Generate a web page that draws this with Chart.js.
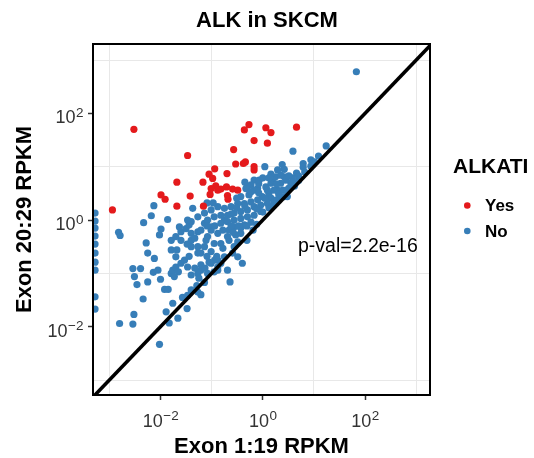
<!DOCTYPE html>
<html>
<head>
<meta charset="utf-8">
<script src="https://cdn.jsdelivr.net/npm/chart.js@4.4.0/dist/chart.umd.min.js"></script>
<style>
  html, body { margin: 0; padding: 0; background: #fff; }
</style>
</head>
<body>
<canvas id="alkChart" width="534" height="458"></canvas>
<script>
// values are log10(RPKM)
const tickExps = [-3, -2, -1, 0, 1, 2, 3];
const labelExps = [-2, 0, 2];
const diagLine = [-4, 4];

const yesExon119 = [-2.52, -2.94, -1.47, -1.68, -1.99, -1.91, -1.68, -1.42, -1.16, -1.17, -1.05, -0.94, -0.98,
  -0.70, -1.03, -0.92, -0.82, -0.71, -0.69, -0.68, -0.59, -0.49, -0.57, -0.53, -0.38, -0.34, -0.36, -0.27,
  -0.17, -0.17, -0.17, 0.06, 0.16, 0.09, 0.66, -1.01, -0.88];
const yesExon2029 = [1.70, 0.19, 1.21, 0.71, 0.47, 0.39, 0.26, 0.45, 0.26, 0.71, 0.86, 0.96, 0.78,
  0.87, 0.48, 0.64, 0.58, 0.62, 0.46, 0.39, 0.58, 0.56, 1.32, 1.05, 1.06, 1.09, 1.69, 1.79,
  1.49, 1.00, 0.94, 1.73, 1.64, 1.44, 1.74, 0.59, 0.56];

const noExon119 = [
  -3.28, -3.28, -3.28, -3.28, -3.28, -3.28, -3.28, -3.28, -3.28, -3.28,
  -2.82, -2.79, -2.18, -2.33, -1.86, -1.99, -2.02, -2.28, -2.25, -2.12, -2.54, -2.39, -2.51, -2.46, -2.25,
  -2.14, -2.05, -2.00, -1.92, -1.85, -2.34, -2.80, -2.54, -2.52, -2.02, -1.83, -1.66, -1.89, -1.76, -1.57,
  -1.48, -1.47, -1.40, -1.29, -1.21, -1.14, -1.79, -1.76, -1.70, -1.65, -1.73, -1.60, -1.79, -1.68, -1.70,
  -1.53, -1.47, -1.79, -1.60, -1.60, -1.70, -1.63, -1.50, -1.44, -1.40, -1.40, -1.27, -1.40, -1.27, -1.27,
  -1.21, -1.14, -1.11, -1.09, -1.01, -0.94, -1.01, -0.88, -0.95, -1.21, -1.27, -1.40, -1.21, -1.08, -0.88,
  -0.82, -0.88, -0.69, -0.64, -0.75, -0.59, -0.49, -0.56, -0.49, -0.40, -0.43, -0.53, -0.95, -1.08, -0.82,
  -0.69, -0.66, -0.75, -0.88, -1.01, -1.14, -1.40, -1.27, -0.31,
  -2.13, -1.37, -1.09, -1.47, -1.27, 0.04, 0.59, 0.38, 0.42, 0.79, 0.79, 1.09, 1.24, 0.55, 0.70,
  0.42, -0.17, -0.30, -0.43, 0.06, 0.12, 0.29, 0.35, -0.10, -0.01, 0.48, 0.19, 0.25, 0.35, 1.83,
  0.45, 0.35, 0.16, -0.07, -0.23, -0.33, -0.17, 0.09, 0.22, 0.42, 0.16, -0.10, -0.23, -0.36, -0.49,
  -0.62, -0.75, -0.88, -1.01, -1.14, -1.08, -0.95, -0.82, -0.69, -0.56, -0.43, -0.30, -0.17, -0.04, 0.09,
  0.22, -0.82, -0.69, -0.56, -0.43, -0.30, -0.17, -0.04, -1.01, -0.56, -0.36, -0.23, -0.43,
  -0.12, 0.00, 0.12, 0.27, 0.39, 0.51, 0.58, 0.66, 0.94, -0.97, -0.51, -0.27, -0.08, -0.35, 0.00, 0.16, 0.29,
  0.51, 0.62, 0.27, 0.12, -0.08, -0.23, -0.58, -0.47, -0.31, -0.19, -0.66, -0.78, -0.90, -1.05, -1.13,
  -1.25, -1.33, -1.44, -1.48, -1.33, -1.21, -1.09, -0.94, -0.78, -0.62, -0.62, -0.51, -0.35, -0.12, 0.04,
  0.19, 0.31, 0.47, 0.58, 0.70, 0.82, 0.94, 1.01
];
const noExon2029 = [
  0.13, -0.02, -0.15, -0.30, -0.45, -0.62, -0.79, -0.94, -1.44, -1.67,
  -0.23, -0.29, 0.08, -0.05, 0.01, -0.17, -0.28, -0.43, -0.62, -0.72, -0.91, -0.91, -1.06, -1.21, -1.16,
  -0.98, -0.94, -1.11, -1.30, -1.30, -1.48, -1.94, -1.95, -1.77, -2.33, -1.93, -1.84, -1.72, -1.56, -1.45,
  -1.66, -1.41, -1.31, -1.23, -1.40, -1.17, -1.00, -0.94, -0.88, -0.97, -1.06, -0.81, -0.56, -0.56, -0.69,
  -0.75, -0.88, -0.38, -0.22, -0.38, -0.31, -0.13, -0.16, -0.09, -0.25, -0.38, -0.22, -0.50, -0.62, -0.50,
  -0.62, -0.50, -0.38, -0.68, -0.59, -0.75, -0.81, -0.94, -0.97, -0.94, -1.00, -1.03, -0.84, -1.00, -0.88,
  -0.81, -0.75, -0.94, -1.16, -0.69, -0.62, -0.69, -0.50, -0.41, -0.81, -0.25, -0.28, -0.44, -0.31, -0.44,
  -0.31, -0.19, 0.00, -0.25, -0.19, -0.06, -0.03, -1.35, -0.38,
  0.27, 0.22, 0.32, 0.00, 0.06, 1.00, 1.29, 1.04, 0.95, 1.06, 0.99, 1.20, 1.39, 0.69, 0.74,
  0.81, 0.75, 0.62, 0.44, 0.62, 0.50, 0.56, 0.44, 0.59, 0.44, 0.44, 0.72, 0.81, 0.69, 2.78,
  0.75, 0.84, 0.69, 0.75, 0.66, 0.59, 0.56, 0.56, 0.56, 0.44, 0.41, 0.38, 0.34, 0.31, 0.31,
  0.25, 0.22, 0.25, 0.19, 0.13, 0.00, 0.06, 0.09, 0.09, 0.13, 0.16, 0.19, 0.25, 0.28, 0.31,
  0.34, -0.06, -0.03, 0.00, 0.03, 0.06, 0.09, 0.16, -0.13, -0.13, -0.09, -0.04, -0.15,
  -0.08, 0.15, 0.23, 0.38, 0.56, 0.60, 0.79, 0.88, 1.13, 0.32, 0.41, 0.47, 0.51, 0.71, 0.79, 0.86, 0.94,
  0.83, 0.64, 0.68, 0.79, 0.68, 0.53, -0.23, -0.11, -0.11, -0.19, -0.38, -0.53, -0.68, -0.79, -0.90,
  -1.09, -0.90, -0.68, -0.45, -0.34, -0.19, -0.11, -0.11, -0.19, -0.11, 0.11, 0.23, 0.26, 0.21, 0.41,
  0.26, 0.49, 0.56, 0.71, 0.83, 0.90, 1.01, 1.09
];

const fontFam = '"Liberation Sans", Arial, Helvetica, sans-serif';

function toPoints(xs, ys) {
  return xs.map((x, i) => ({ x: x, y: ys[i] }));
}

function logAxis(min, max, titleText, isY) {
  return {
    type: 'linear',
    min: min,
    max: max,
    afterBuildTicks: scale => {
      scale.ticks = tickExps.map(v => ({ value: v }));
    },
    afterFit: scale => {
      if (isY) scale.width = 93;
      else scale.height = 63;
    },
    border: { display: false },
    grid: {
      color: c => (c.tick && Math.abs(c.tick.value) % 2 === 1) ? '#E8E8E8' : 'rgba(0,0,0,0)',
      lineWidth: 1,
      tickLength: 5,
      tickWidth: 1.5,
      tickColor: c => (c.tick && c.tick.value % 2 === 0) ? '#333333' : 'rgba(0,0,0,0)'
    },
    // labels 10^n are drawn by the powLabels plugin (real superscripts)
    ticks: { display: false },
    title: {
      display: true,
      text: titleText,
      color: '#000',
      font: { family: fontFam, size: 22, weight: 'bold', lineHeight: 1 },
      padding: isY ? { top: 13.5, bottom: 0 } : { top: 0, bottom: 0 }
    }
  };
}

function drawPow(ctx, exp, x, baseline, align) {
  const base = '10';
  const sup = String(exp).replace('-', '\u2212');
  ctx.font = '18px ' + fontFam;
  const wb = ctx.measureText(base).width;
  ctx.font = '13.5px ' + fontFam;
  const ws = ctx.measureText(sup).width;
  const left = align === 'right' ? x - wb - ws : x - (wb + ws) / 2;
  ctx.font = '18px ' + fontFam;
  ctx.fillText(base, left, baseline);
  ctx.font = '13.5px ' + fontFam;
  ctx.fillText(sup, left + wb + 0.5, baseline - 6.5);
}

const powLabels = {
  id: 'powLabels',
  afterDraw(chart) {
    const ctx = chart.ctx;
    const xs = chart.scales.x;
    const ys = chart.scales.y;
    ctx.save();
    ctx.fillStyle = '#333333';
    ctx.textBaseline = 'alphabetic';
    ctx.textAlign = 'left';
    labelExps.forEach(v => {
      drawPow(ctx, v, xs.getPixelForValue(v), chart.chartArea.bottom + 31.5, 'center');
      drawPow(ctx, v, chart.chartArea.left - 10, ys.getPixelForValue(v) + 10, 'right');
    });
    ctx.restore();
  }
};

// panel border, legend and p-value
const extras = {
  id: 'extras',
  afterDraw(chart) {
    const ctx = chart.ctx;
    const a = chart.chartArea;
    ctx.save();
    ctx.strokeStyle = '#000';
    ctx.lineWidth = 2;
    ctx.strokeRect(a.left, a.top, a.right - a.left, a.bottom - a.top);

    ctx.fillStyle = '#000';
    ctx.textBaseline = 'alphabetic';
    ctx.textAlign = 'left';
    ctx.font = '19.5px ' + fontFam;
    ctx.fillText('p-val=2.2e-16', 298, 251.5);

    ctx.font = 'bold 21px ' + fontFam;
    ctx.fillText('ALKATI', 453, 173);

    const items = chart.data.datasets.filter(d => d.inLegend);
    items.forEach((d, i) => {
      const cy = 205.5 + i * 25.5;
      ctx.beginPath();
      ctx.arc(467.3, cy, 3.3, 0, Math.PI * 2);
      ctx.fillStyle = d.backgroundColor;
      ctx.fill();
      ctx.fillStyle = '#000';
      ctx.font = 'bold 17px ' + fontFam;
      ctx.fillText(d.label, 485, cy + 5.5);
    });
    ctx.restore();
  }
};

new Chart(document.getElementById('alkChart'), {
  type: 'scatter',
  data: {
    datasets: [
      {
        type: 'line',
        label: 'y = x',
        data: toPoints(diagLine, diagLine),
        borderColor: '#000',
        borderWidth: 3.5,
        pointRadius: 0,
        clip: 0,
        order: 0
      },
      {
        label: 'Yes',
        inLegend: true,
        data: toPoints(yesExon119, yesExon2029),
        backgroundColor: '#E41A1C',
        borderWidth: 0,
        pointRadius: 3.6,
        clip: 0,
        order: 1
      },
      {
        label: 'No',
        inLegend: true,
        data: toPoints(noExon119, noExon2029),
        backgroundColor: '#377EB8',
        borderWidth: 0,
        pointRadius: 3.6,
        clip: 0,
        order: 2
      }
    ]
  },
  options: {
    responsive: false,
    animation: false,
    scales: {
      x: logAxis(-3.32, 3.27, 'Exon 1:19 RPKM', false),
      y: logAxis(-3.28, 3.3, 'Exon 20:29 RPKM', true),
      // empty right-hand column that holds the legend
      legendSpace: {
        axis: 'y',
        position: 'right',
        display: true,
        grid: { display: false },
        border: { display: false },
        ticks: { display: false },
        afterFit: scale => { scale.width = 104; }
      }
    },
    plugins: {
      legend: { display: false },
      tooltip: { enabled: false },
      title: {
        display: true,
        text: 'ALK in SKCM',
        color: '#000',
        font: { family: fontFam, size: 22, weight: 'bold', lineHeight: 1 },
        padding: { top: 10, bottom: 12 }
      }
    }
  },
  plugins: [powLabels, extras]
});
</script>
</body>
</html>
